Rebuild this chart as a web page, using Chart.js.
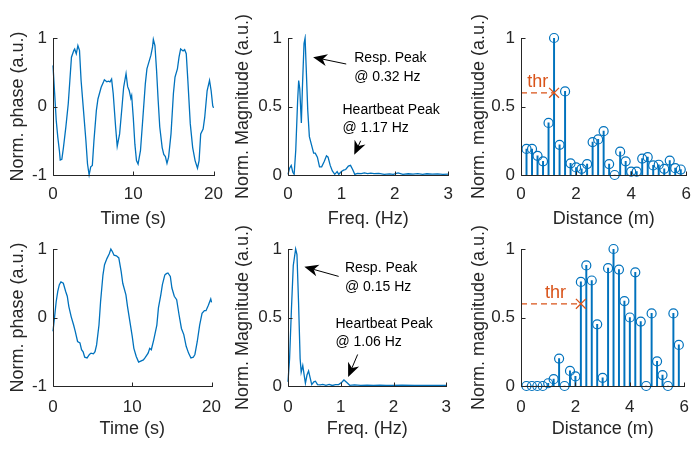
<!DOCTYPE html>
<html>
<head>
<meta charset="utf-8">
<script src="https://cdn.jsdelivr.net/npm/chart.js@4.4.1/dist/chart.umd.min.js"></script>
<style>
html, body { margin: 0; padding: 0; background: #fff; overflow: hidden; width: 691px; height: 449px; }
canvas { position: absolute; }
</style>
</head>
<body>
<canvas id="p1"></canvas>
<canvas id="p2"></canvas>
<canvas id="p3"></canvas>
<canvas id="p4"></canvas>
<canvas id="p5"></canvas>
<canvas id="p6"></canvas>
<script>
// ---- data ----
var timeA = [0,0.2,0.4,0.6,0.8,0.9,1.1,1.3,1.6,1.9,2.1,2.3,2.6,2.7,2.9,3.1,3.3,3.5,3.8,4.1,4.3,4.5,4.7,4.9,5.1,5.4,5.6,6.0,6.3,6.4,6.7,6.9,7.1,7.3,7.5,7.8,8.0,8.3,8.6,8.8,9.1,9.3,9.5,9.7,9.8,10.0,10.2,10.4,10.6,10.9,11.2,11.5,11.7,12.0,12.2,12.4,12.5,12.7,12.9,13.1,13.3,13.6,13.8,14.0,14.2,14.4,14.7,15.0,15.2,15.5,15.7,15.9,16.2,16.4,16.6,16.8,17.1,17.4,17.7,18.0,18.2,18.4,18.7,18.9,19.2,19.5,19.7,19.9,20.0];
var phaseA = [0.6,0.2,-0.2,-0.45,-0.65,-0.78,-0.77,-0.6,-0.3,0.04,0.38,0.72,0.82,0.84,0.77,0.89,0.82,0.38,-0.06,-0.5,-0.84,-1.0,-0.88,-0.86,-0.5,-0.06,0.11,0.28,0.36,0.39,0.36,0.37,0.36,0.4,0.19,-0.3,-0.58,-0.4,0,0.28,0.48,0.29,0.23,0.12,0.16,-0.16,-0.55,-0.79,-0.84,-0.64,-0.16,0.33,0.55,0.67,0.75,0.87,0.98,0.89,0.53,0.09,-0.3,-0.6,-0.7,-0.73,-0.83,-0.74,-0.4,0.19,0.43,0.55,0.72,0.84,0.81,0.83,0.77,0.38,-0.25,-0.6,-0.79,-0.9,-0.79,-0.4,-0.33,-0.16,0.23,0.38,0.23,0.01,-0.02];

var timeB = [0,0.2,0.4,0.6,0.8,1.0,1.3,1.6,1.8,2.0,2.3,2.6,2.8,3.1,3.4,3.6,3.8,4.0,4.3,4.6,4.8,5.1,5.3,5.5,5.8,6.0,6.3,6.5,6.8,7.1,7.3,7.5,7.7,8.0,8.3,8.6,8.8,9.2,9.4,9.7,10.0,10.2,10.5,10.8,11.0,11.4,11.6,12.0,12.2,12.4,12.7,13.1,13.3,13.6,13.8,14.1,14.3,14.5,14.8,15.0,15.3,15.6,15.9,16.2,16.5,16.8,17.1,17.4,17.7,17.9,18.2,18.5,18.8,19.1,19.3,19.6,19.8,19.9,20.0];
var phaseB = [-0.2,0.01,0.23,0.38,0.48,0.52,0.5,0.38,0.31,0.16,0.01,-0.11,-0.2,-0.35,-0.37,-0.47,-0.5,-0.58,-0.59,-0.54,-0.52,-0.53,-0.5,-0.4,-0.11,0.23,0.62,0.77,0.86,0.93,1.0,0.96,0.91,0.9,0.87,0.67,0.5,0.33,0.16,-0.06,-0.28,-0.45,-0.57,-0.65,-0.64,-0.62,-0.59,-0.52,-0.45,-0.47,-0.33,-0.11,0.14,0.33,0.48,0.62,0.64,0.65,0.6,0.43,0.31,0.26,0.04,-0.16,-0.25,-0.42,-0.52,-0.59,-0.58,-0.54,-0.35,-0.11,0.06,0.1,0.1,0.18,0.24,0.27,0.22];

var freqA = [0,0.03,0.06,0.09,0.115,0.145,0.18,0.2,0.22,0.25,0.27,0.3,0.32,0.34,0.37,0.4,0.44,0.48,0.51,0.55,0.59,0.63,0.68,0.72,0.75,0.79,0.83,0.875,0.92,0.95,1.0,1.04,1.08,1.13,1.17,1.21,1.25,1.3,1.37,1.43,1.49,1.55,1.61,1.7,1.8,1.9,1.97,2.06,2.15,2.25,2.34,2.43,2.52,2.6,2.7,2.8,2.9,3.0];
var magA = [0.005,0.05,0.07,0.02,0.005,0.18,0.54,0.69,0.63,0.38,0.64,0.96,1.0,0.79,0.47,0.28,0.22,0.16,0.16,0.13,0.06,0.06,0.1,0.14,0.13,0.07,0.03,0.005,0.025,0.005,0.025,0.035,0.04,0.065,0.07,0.04,0.005,0.012,0.01,0.015,0.01,0.013,0.01,0.012,0.005,0.008,0.005,0.015,0.005,0.009,0.006,0.01,0.005,0.009,0.006,0.008,0.005,0.006];

var freqB = [0,0.03,0.066,0.1,0.145,0.17,0.2,0.23,0.25,0.28,0.31,0.33,0.36,0.39,0.42,0.45,0.49,0.52,0.56,0.61,0.66,0.72,0.78,0.84,0.9,0.96,1.02,1.06,1.11,1.17,1.26,1.38,1.5,1.62,1.74,1.86,1.98,2.16,2.4,2.7,3.0];
var magB = [0.03,0.2,0.57,0.88,1.0,0.96,0.61,0.2,0.1,0.15,0.07,0.02,0.08,0.11,0.06,0.01,0.03,0.035,0.01,0.008,0.012,0.005,0.012,0.004,0.01,0.01,0.027,0.044,0.027,0.005,0.008,0.005,0.007,0.004,0.006,0.004,0.005,0.006,0.004,0.005,0.004];

var dist = [0.2,0.4,0.6,0.8,1.0,1.2,1.4,1.6,1.8,2.0,2.2,2.4,2.6,2.8,3.0,3.2,3.4,3.6,3.8,4.0,4.2,4.4,4.6,4.8,5.0,5.2,5.4,5.6,5.8];
var stemA = [0.19,0.19,0.14,0.1,0.38,1.0,0.22,0.61,0.085,0.055,0.045,0.08,0.24,0.26,0.32,0.08,0.0,0.17,0.1,0.025,0.025,0.12,0.13,0.07,0.075,0.045,0.105,0.05,0.04];
var stemB = [0,0,0,0,0.02,0.05,0.2,0,0.11,0.07,0.76,0.88,0.77,0.45,0.06,0.86,1.0,0.85,0.62,0.5,0.83,0.47,0,0.53,0.18,0.08,0,0.53,0.3];

var thrLevel = 0.6;
var thrDistA = 1.2, thrDistB = 2.2;

var ticksTime = [0, 10, 20], ticksPhase = [-1, 0, 1];
var ticksFreq = [0, 1, 2, 3], ticksMag = [0, 0.5, 1];
var ticksDist = [0, 2, 4, 6];

// ---- styling ----
var blue = '#0072BD', orange = '#D95319', ink = '#262626';
var FONT = "'Liberation Sans', Arial, Helvetica, sans-serif";

// text / arrows drawn on top, positions in data units
var extras = {
  p2: {
    texts: [[1.24, 0.853, 'Resp. Peak'], [1.24, 0.713, '@ 0.32 Hz'], [1.02, 0.47, 'Heartbeat Peak'], [1.02, 0.34, '@ 1.17 Hz']],
    arrows: [[1.09, 0.81, 0.47, 0.86], [1.36, 0.25, 1.24, 0.147]]
  },
  p5: {
    texts: [[1.08, 0.86, 'Resp. Peak'], [1.08, 0.72, '@ 0.15 Hz'], [0.9, 0.45, 'Heartbeat Peak'], [0.9, 0.32, '@ 1.06 Hz']],
    arrows: [[0.96, 0.80, 0.31, 0.87], [1.32, 0.23, 1.14, 0.066]]
  },
  p3: { thr: [0.61, 0.68] },
  p6: { thr: [1.27, 0.68] }
};

function drawArrow(ctx, x1, y1, x2, y2) {
  var a = Math.atan2(y2 - y1, x2 - x1), c = Math.cos(a), s = Math.sin(a);
  var L = 14, W = 6;
  ctx.beginPath();
  ctx.moveTo(x1, y1);
  ctx.lineTo(x2 - c * L * 0.7, y2 - s * L * 0.7);
  ctx.stroke();
  ctx.beginPath();
  ctx.moveTo(x2, y2);
  ctx.lineTo(x2 - c * L - s * W, y2 - s * L + c * W);
  ctx.lineTo(x2 - c * L * 0.7, y2 - s * L * 0.7);
  ctx.lineTo(x2 - c * L + s * W, y2 - s * L - c * W);
  ctx.closePath();
  ctx.fill();
}

// matlab-like axes: left + bottom lines, inward ticks, annotations
var matlabAxes = {
  id: 'matlabAxes',
  afterDraw: function(chart) {
    var ctx = chart.ctx, a = chart.chartArea, xs = chart.scales.x, ys = chart.scales.y;
    var L = Math.round(a.left) + 0.5, B = Math.round(a.bottom) + 0.5;
    ctx.save();
    ctx.strokeStyle = ink;
    ctx.lineWidth = 1;
    ctx.beginPath();
    ctx.moveTo(L, Math.round(a.top));
    ctx.lineTo(L, B);
    ctx.lineTo(Math.round(a.right) + 1, B);
    xs.ticks.forEach(function(t) {
      var px = Math.round(xs.getPixelForValue(t.value)) + 0.5;
      ctx.moveTo(px, B); ctx.lineTo(px, B - 4);
    });
    ys.ticks.forEach(function(t) {
      var py = Math.round(ys.getPixelForValue(t.value)) + 0.5;
      ctx.moveTo(L, py); ctx.lineTo(L + 4, py);
    });
    ctx.stroke();

    var ex = extras[chart.canvas.id];
    if (ex && ex.texts) {
      ctx.fillStyle = '#000';
      ctx.strokeStyle = '#000';
      ctx.font = '14px ' + FONT;
      ctx.textAlign = 'left';
      ctx.textBaseline = 'middle';
      ex.texts.forEach(function(t) {
        ctx.fillText(t[2], xs.getPixelForValue(t[0]), ys.getPixelForValue(t[1]));
      });
      ctx.lineWidth = 1;
      ex.arrows.forEach(function(r) {
        drawArrow(ctx, xs.getPixelForValue(r[0]), ys.getPixelForValue(r[1]),
                  xs.getPixelForValue(r[2]), ys.getPixelForValue(r[3]));
      });
    }
    if (ex && ex.thr) {
      ctx.fillStyle = orange;
      ctx.font = '18px ' + FONT;
      ctx.textAlign = 'center';
      ctx.textBaseline = 'middle';
      ctx.fillText('thr', xs.getPixelForValue(ex.thr[0]), ys.getPixelForValue(ex.thr[1]));
    }
    ctx.restore();
  }
};

function pts(xs, ys) {
  return xs.map(function(v, i) { return {x: v, y: ys[i]}; });
}

function lineSet(xs, ys) {
  return { data: pts(xs, ys), showLine: true, borderColor: blue, borderWidth: 1.3,
           pointRadius: 0, tension: 0, clip: 4 };
}

function stemSets(xs, ys, thrX) {
  return [
    { data: [{x: 0, y: thrLevel}, {x: thrX, y: thrLevel}], showLine: true, borderColor: orange,
      borderWidth: 1.3, borderDash: [6, 4], pointRadius: [0, 7], pointStyle: 'crossRot',
      pointBorderColor: orange, pointBorderWidth: 1.3, clip: false },
    { data: pts(xs, ys), pointRadius: 4.5, pointBorderColor: blue, pointBorderWidth: 1.2,
      pointBackgroundColor: 'rgba(0,0,0,0)', clip: false },
    { type: 'bar', data: pts(xs, ys), backgroundColor: blue, barThickness: 1.3, borderWidth: 0 }
  ];
}

function panel(id, box, xCfg, yCfg, datasets) {
  var c = document.getElementById(id);
  c.width = box.w; c.height = box.h;
  c.style.left = box.x + 'px'; c.style.top = box.y + 'px';
  return new Chart(c, {
    type: 'scatter',
    data: { datasets: datasets },
    options: {
      responsive: false, animation: false, devicePixelRatio: 1,
      layout: { padding: { left: 0, top: box.t - box.y, right: box.x + box.w - box.r, bottom: 0 } },
      plugins: { legend: { display: false }, tooltip: { enabled: false } },
      scales: {
        x: {
          type: 'linear', position: 'bottom', offset: false,
          min: xCfg.ticks[0], max: xCfg.ticks[xCfg.ticks.length - 1],
          afterBuildTicks: function(s) { s.ticks = xCfg.ticks.map(function(v) { return {value: v}; }); },
          afterFit: function(s) { s.height = box.y + box.h - box.b; },
          grid: { display: false, drawTicks: false }, border: { display: false },
          ticks: { color: ink, font: { family: FONT, size: 17 }, padding: box.xtp, maxRotation: 0,
                   autoSkip: false, callback: function(v) { return String(v); } },
          title: { display: true, text: xCfg.title, color: ink, font: { family: FONT, size: 18, lineHeight: 1.2 },
                   padding: { top: 0, bottom: box.y + box.h - box.xt - 10.8 } }
        },
        y: {
          type: 'linear', position: 'left',
          min: yCfg.ticks[0], max: yCfg.ticks[yCfg.ticks.length - 1],
          afterBuildTicks: function(s) { s.ticks = yCfg.ticks.map(function(v) { return {value: v}; }); },
          afterFit: function(s) { s.width = box.l - box.x; },
          grid: { display: false, drawTicks: false }, border: { display: false },
          ticks: { color: ink, font: { family: FONT, size: 17 }, padding: 6,
                   autoSkip: false, callback: function(v) { return String(v); } },
          title: { display: true, text: yCfg.title, color: ink, font: { family: FONT, size: 18, lineHeight: 1.2 },
                   padding: { top: box.yt - box.x - 10.8, bottom: 0 } }
        }
      }
    },
    plugins: [matlabAxes]
  });
}

var tTime = { ticks: ticksTime, title: 'Time (s)' };
var tPhase = { ticks: ticksPhase, title: 'Norm. phase (a.u.)' };
var tFreq = { ticks: ticksFreq, title: 'Freq. (Hz)' };
var tMagF = { ticks: ticksMag, title: 'Norm. Magnitude (a.u.)' };
var tDist = { ticks: ticksDist, title: 'Distance (m)' };
var tMagD = { ticks: ticksMag, title: 'Norm. magnitude (a.u.)' };

panel('p1', {x: 0, y: 0, w: 232, h: 232, l: 53, t: 38, r: 219, b: 175, xt: 219, yt: 18.5, xtp: 9}, tTime, tPhase, [lineSet(timeA, phaseA)]);
panel('p2', {x: 230, y: 0, w: 232, h: 232, l: 288, t: 38, r: 453, b: 175, xt: 219, yt: 243, xtp: 9}, tFreq, tMagF, [lineSet(freqA, magA)]);
panel('p3', {x: 460, y: 0, w: 240, h: 232, l: 521, t: 38, r: 687, b: 175, xt: 219, yt: 479, xtp: 9}, tDist, tMagD, stemSets(dist, stemA, thrDistA));
panel('p4', {x: 0, y: 215, w: 232, h: 234, l: 53, t: 249, r: 219, b: 386, xt: 429, yt: 18.5, xtp: 11}, tTime, tPhase, [lineSet(timeB, phaseB)]);
panel('p5', {x: 230, y: 215, w: 232, h: 234, l: 288, t: 249, r: 453, b: 386, xt: 429, yt: 243, xtp: 11}, tFreq, tMagF, [lineSet(freqB, magB)]);
panel('p6', {x: 460, y: 215, w: 240, h: 234, l: 521, t: 249, r: 687, b: 386, xt: 429, yt: 479, xtp: 11}, tDist, tMagD, stemSets(dist, stemB, thrDistB));
</script>
</body>
</html>
